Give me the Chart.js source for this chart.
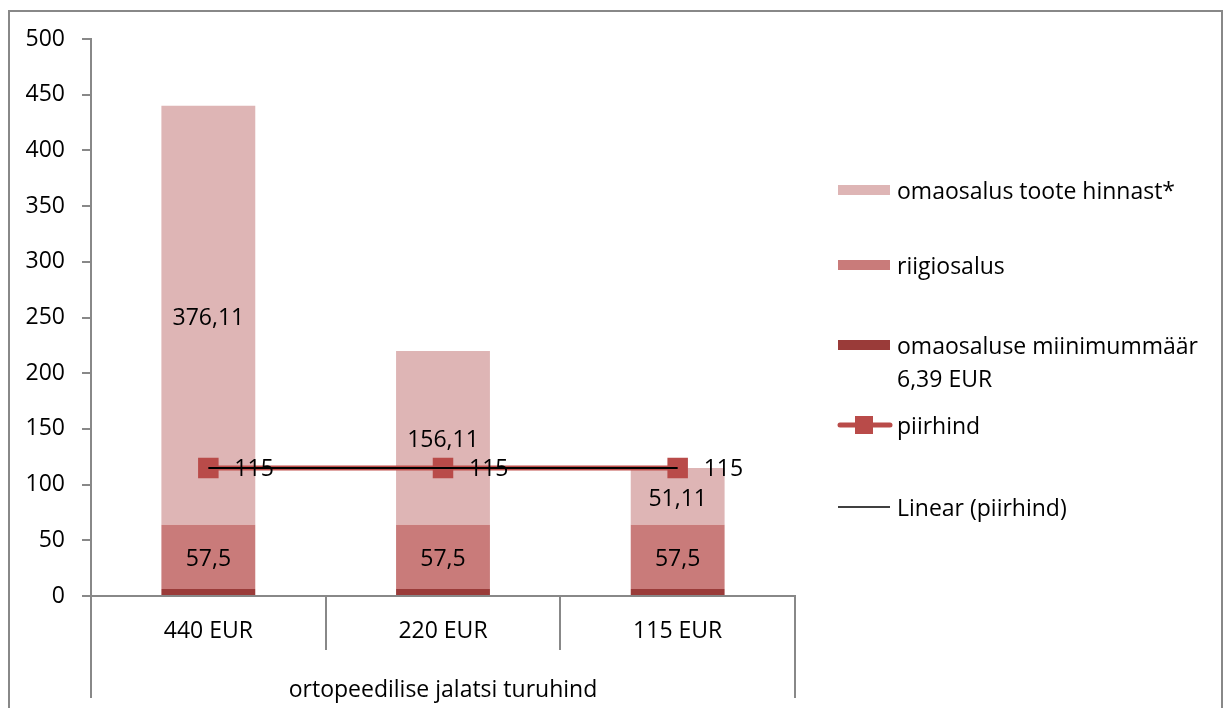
<!DOCTYPE html>
<html>
<head>
<meta charset="utf-8">
<script src="https://cdn.jsdelivr.net/npm/chart.js@4/dist/chart.umd.min.js"></script>
<style>
  html, body { margin: 0; padding: 0; background: #fff; }
  #wrap { width: 1223px; height: 708px; }
</style>
</head>
<body>
<div id="wrap"><canvas id="chart" width="1223" height="708"></canvas></div>
<script>
const categories = ['440 EUR', '220 EUR', '115 EUR'];
const groupLabel = 'ortopeedilise jalatsi turuhind';
const miinimum = [6.39, 6.39, 6.39];
const riigiosalus = [57.5, 57.5, 57.5];
const omaosalus = [376.11, 156.11, 51.11];
const piirhind = [115, 115, 115];
const yTicks = [0, 50, 100, 150, 200, 250, 300, 350, 400, 450, 500];

const FONT = '"Open Sans", "Noto Sans", sans-serif';
const FS = 23;
const GRAY = '#888888';

// linear trendline through the piirhind points (least squares)
function linearFit(vals) {
  const n = vals.length;
  const xs = vals.map((v, i) => i + 1);
  const mx = xs.reduce((a, b) => a + b, 0) / n;
  const my = vals.reduce((a, b) => a + b, 0) / n;
  let num = 0, den = 0;
  xs.forEach((x, i) => { num += (x - mx) * (vals[i] - my); den += (x - mx) * (x - mx); });
  const slope = den ? num / den : 0;
  return xs.map(x => my + slope * (x - mx));
}
const trend = linearFit(piirhind);

const fmt = v => String(v).replace('.', ',');

const legendItems = [
  { type: 'box', color: '#DEB5B5', text: ['omaosalus toote hinnast*'], y: 190 },
  { type: 'box', color: '#C97B7A', text: ['riigiosalus'], y: 265 },
  { type: 'box', color: '#9A3B39', text: ['omaosaluse miinimummäär', '6,39 EUR'], y: 345 },
  { type: 'marker', color: '#B94B49', text: ['piirhind'], y: 425 },
  { type: 'line', color: '#000000', text: ['Linear (piirhind)'], y: 507 }
];

const extras = {
  id: 'extras',
  beforeDraw(chart) {
    const ctx = chart.ctx;
    ctx.save();
    ctx.fillStyle = '#fff';
    ctx.fillRect(0, 0, chart.width, chart.height);
    ctx.strokeStyle = GRAY;
    ctx.lineWidth = 2;
    ctx.strokeRect(9, 11, 1213, 712);
    ctx.restore();
  },
  afterDraw(chart) {
    const ctx = chart.ctx;
    const area = chart.chartArea;
    ctx.save();
    // category separators (two levels)
    ctx.strokeStyle = GRAY;
    ctx.lineWidth = 2;
    const n = categories.length;
    const step = (area.right - area.left) / n;
    for (let i = 0; i <= n; i++) {
      const x = Math.round(area.left + step * i);
      const outer = i === 0 || i === n;
      ctx.beginPath();
      ctx.moveTo(x, area.bottom);
      ctx.lineTo(x, area.bottom + (outer ? 102 : 54));
      ctx.stroke();
    }
    // data labels
    ctx.fillStyle = '#000';
    ctx.font = FS + 'px ' + FONT;
    ctx.textBaseline = 'middle';
    ctx.textAlign = 'center';
    [1, 2].forEach(di => {
      const meta = chart.getDatasetMeta(di);
      const data = chart.data.datasets[di].data;
      meta.data.forEach((bar, i) => {
        const y = (bar.y + bar.base) / 2;
        ctx.fillText(fmt(data[i]), bar.x, y + 3);
      });
    });
    ctx.textAlign = 'left';
    const lm = chart.getDatasetMeta(3);
    lm.data.forEach((pt, i) => {
      ctx.fillText(fmt(piirhind[i]), pt.x + 26, pt.y + 2);
    });
    // legend
    const bx = 838, bw = 52, tx = 897;
    legendItems.forEach(it => {
      if (it.type === 'box') {
        ctx.fillStyle = it.color;
        ctx.fillRect(bx, it.y - 5, bw, 10);
      } else if (it.type === 'marker') {
        ctx.strokeStyle = it.color;
        ctx.lineWidth = 5;
        ctx.lineCap = 'round';
        ctx.beginPath();
        ctx.moveTo(bx + 2, it.y);
        ctx.lineTo(bx + bw, it.y);
        ctx.stroke();
        ctx.fillStyle = it.color;
        ctx.fillRect(bx + 17, it.y - 9, 18, 18);
      } else {
        ctx.strokeStyle = it.color;
        ctx.lineWidth = 1.5;
        ctx.lineCap = 'butt';
        ctx.beginPath();
        ctx.moveTo(bx, it.y);
        ctx.lineTo(bx + bw, it.y);
        ctx.stroke();
      }
      ctx.fillStyle = '#000';
      it.text.forEach((t, k) => ctx.fillText(t, tx, it.y + 2 + k * 33));
    });
    ctx.restore();
  }
};

new Chart(document.getElementById('chart'), {
  type: 'bar',
  data: {
    labels: categories,
    datasets: [
      { label: 'omaosaluse miinimummäär 6,39 EUR', data: miinimum, backgroundColor: '#9A3B39', stack: 'bars', order: 2 },
      { label: 'riigiosalus', data: riigiosalus, backgroundColor: '#C97B7A', stack: 'bars', order: 2 },
      { label: 'omaosalus toote hinnast*', data: omaosalus, backgroundColor: '#DEB5B5', stack: 'bars', order: 2 },
      {
        type: 'line', label: 'piirhind', data: piirhind, stack: 'line', order: 1,
        borderColor: '#C0504D', borderWidth: 5, pointStyle: 'rect', pointRadius: 14.5,
        pointBackgroundColor: '#B94B49', pointBorderColor: '#B94B49', pointBorderWidth: 0
      },
      {
        type: 'line', label: 'Linear (piirhind)', data: trend, stack: 'trend', order: 0,
        borderColor: '#000', borderWidth: 2, pointRadius: 0
      }
    ]
  },
  options: {
    responsive: false,
    devicePixelRatio: 1,
    animation: false,
    events: [],
    layout: { padding: { left: 0, top: 39, right: 428, bottom: 0 } },
    datasets: { bar: { categoryPercentage: 1, barPercentage: 0.4 } },
    plugins: { legend: { display: false }, tooltip: { enabled: false } },
    scales: {
      x: {
        stacked: true,
        grid: { display: false, drawTicks: false },
        border: { display: true, color: GRAY, width: 2 },
        ticks: { color: '#000', font: { family: FONT, size: FS }, padding: 22 },
        title: { display: true, text: groupLabel, color: '#000', font: { family: FONT, size: FS }, padding: { top: 11 } },
        afterFit: s => { s.height = 112; }
      },
      y: {
        stacked: true,
        min: 0,
        max: 500,
        afterBuildTicks: s => { s.ticks = yTicks.map(v => ({ value: v })); },
        grid: { drawOnChartArea: false, drawTicks: true, tickLength: 9, tickColor: GRAY, lineWidth: 2 },
        border: { display: true, color: GRAY, width: 2 },
        ticks: { color: '#000', font: { family: FONT, size: FS }, padding: 17 },
        afterFit: s => { s.width = 91; }
      }
    }
  },
  plugins: [extras]
});
</script>
</body>
</html>
